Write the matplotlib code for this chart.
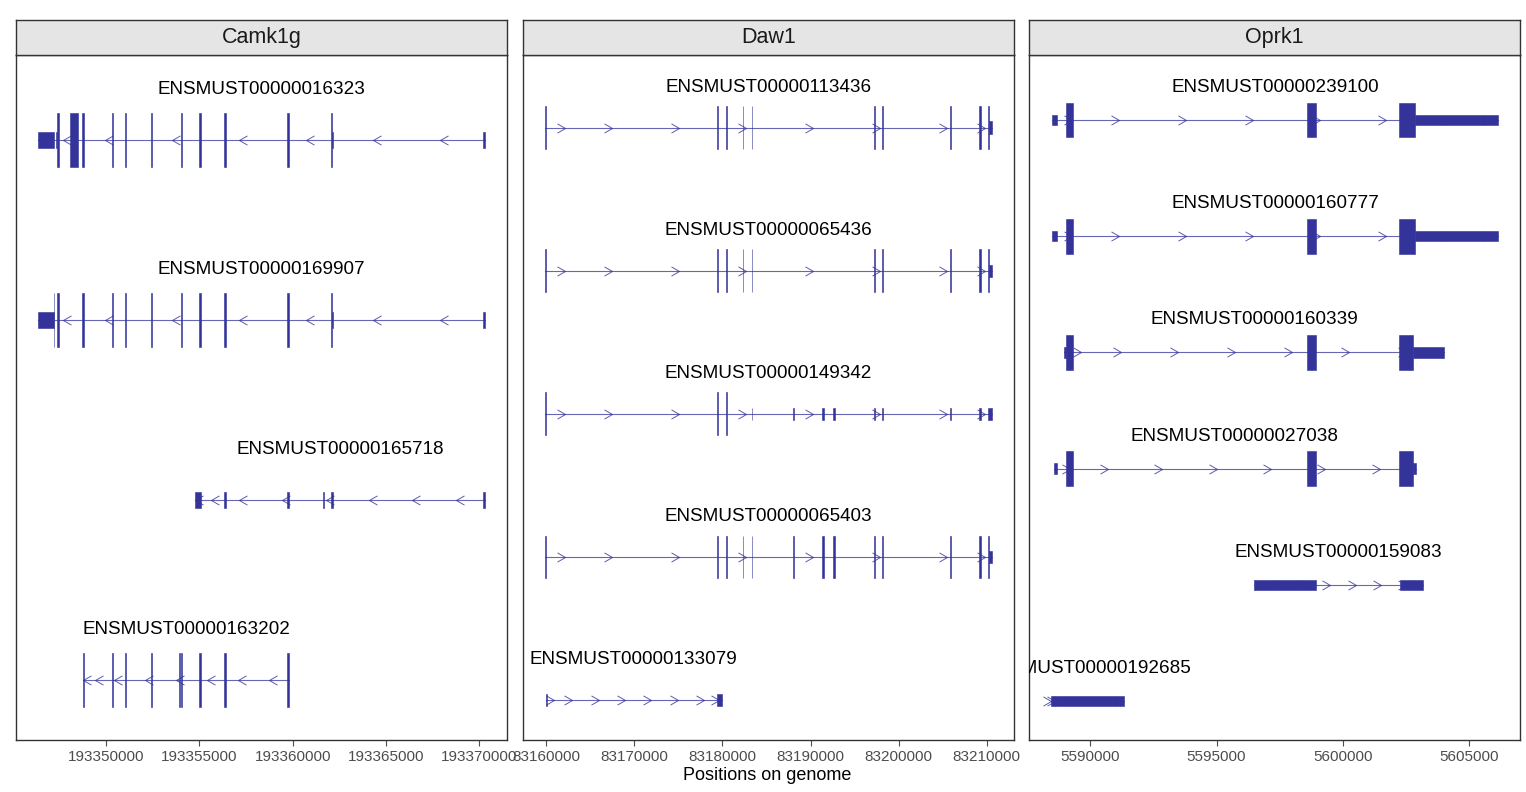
import matplotlib
matplotlib.use("Agg")
import matplotlib.pyplot as plt
from matplotlib.patches import Rectangle
from matplotlib.path import Path
from matplotlib.ticker import FixedLocator, FuncFormatter

plt.rcParams['font.family'] = ['Liberation Sans', 'DejaVu Sans']

COL = "#333399"

# ---- Camk1g (minus strand) ----
camk1g_ids = ["ENSMUST00000016323", "ENSMUST00000169907",
              "ENSMUST00000165718", "ENSMUST00000163202"]
camk1g_exons = [
    [(193346356, 193347213), (193347304, 193347454), (193348071, 193348499),
     (193348716, 193348786), (193350302, 193350342), (193350984, 193351084),
     (193352408, 193352448), (193353985, 193354085), (193354971, 193355071),
     (193356327, 193356427), (193359720, 193359820), (193362045, 193362160),
     (193370220, 193370300)],
    [(193346356, 193347224), (193347358, 193347444), (193348716, 193348786),
     (193350302, 193350342), (193350984, 193351084), (193352408, 193352448),
     (193353985, 193354085), (193354971, 193355071), (193356327, 193356427),
     (193359720, 193359820), (193362045, 193362160), (193370220, 193370300)],
    [(193354786, 193355075), (193356327, 193356427), (193359720, 193359820),
     (193361647, 193361687), (193362045, 193362145), (193370220, 193370300)],
    [(193348764, 193348804), (193350302, 193350342), (193350984, 193351084),
     (193352408, 193352448), (193353892, 193353932), (193353985, 193354085),
     (193354971, 193355071), (193356327, 193356427), (193359720, 193359820)],
]
camk1g_cds = [(193347374, 193362110), (193347181, 193362110), None,
              (193348764, 193359820)]

# ---- Daw1 (plus strand) ----
daw1_ids = ["ENSMUST00000113436", "ENSMUST00000065436", "ENSMUST00000149342",
            "ENSMUST00000065403", "ENSMUST00000133079"]
daw1_exons = [
    [(83159890, 83159960), (83179400, 83179470), (83180370, 83180540),
     (83182300, 83182370), (83183320, 83183390), (83197240, 83197310),
     (83198150, 83198220), (83205845, 83205915), (83209160, 83209320),
     (83210150, 83210566)],
    [(83159890, 83159960), (83179400, 83179470), (83180370, 83180540),
     (83182300, 83182370), (83183320, 83183390), (83197240, 83197310),
     (83198150, 83198220), (83205845, 83205915), (83209160, 83209320),
     (83210150, 83210566)],
    [(83159890, 83159960), (83179400, 83179470), (83180370, 83180540),
     (83183320, 83183390), (83188005, 83188075), (83191350, 83191520),
     (83192600, 83192770), (83197240, 83197310), (83198150, 83198220),
     (83205845, 83205915), (83209160, 83209320), (83210150, 83210566)],
    [(83159890, 83159960), (83179400, 83179470), (83180370, 83180540),
     (83182300, 83182370), (83183320, 83183390), (83188005, 83188075),
     (83191350, 83191520), (83192600, 83192770), (83197240, 83197310),
     (83198150, 83198220), (83205845, 83205915), (83209160, 83209320),
     (83210150, 83210566)],
    [(83159950, 83160030), (83179420, 83179920)],
]
daw1_cds = [(83159890, 83210230), (83159890, 83210230), (83159890, 83180540),
            (83159890, 83210230), None]

# ---- Oprk1 (plus strand) ----
oprk1_ids = ["ENSMUST00000239100", "ENSMUST00000160777", "ENSMUST00000160339",
             "ENSMUST00000027038", "ENSMUST00000159083", "ENSMUST00000192685"]
oprk1_exons = [
    [(5588488, 5588674), (5589041, 5589305), (5598581, 5598936), (5602236, 5606143)],
    [(5588488, 5588674), (5589041, 5589305), (5598581, 5598936), (5602236, 5606143)],
    [(5588950, 5589305), (5598581, 5598936), (5602236, 5604012)],
    [(5588540, 5588674), (5589041, 5589305), (5598581, 5598936), (5602236, 5602895)],
    [(5596501, 5598936), (5602263, 5603183)],
    [(5588449, 5591318)],
]
oprk1_cds = [(5589041, 5602855), (5589041, 5602855), (5589041, 5602788),
             (5589041, 5602788), None, None]

genes = ["Camk1g", "Daw1", "Oprk1"]
strands = ["-", "+", "+"]
tick_steps = [5000, 10000, 5000]
gene_ids = [camk1g_ids, daw1_ids, oprk1_ids]
gene_exons = [camk1g_exons, daw1_exons, oprk1_exons]
gene_cds = [camk1g_cds, daw1_cds, oprk1_cds]

# chevron positions along each transcript (fraction of span from the left end)
ARROW_FRACS = {"-": [0, 0.055, 0.15, 0.30, 0.45, 0.60, 0.75, 0.90],
               "+": [0.045, 0.15, 0.30, 0.45, 0.60, 0.75, 0.90, 0.985]}

CDS_H = 0.15
UTR_H = 0.045

chev_r = Path([(-1, 0.577), (0, 0), (-1, -0.577)],
              [Path.MOVETO, Path.LINETO, Path.LINETO])
chev_l = Path([(1, 0.577), (0, 0), (1, -0.577)],
              [Path.MOVETO, Path.LINETO, Path.LINETO])

W, H = 1526, 792
fig = plt.figure(figsize=(W / 100, H / 100), dpi=100)
lefts = [16, 523, 1029]
pw = 491
bottom_px, top_px, strip_top = 740, 55, 20
ylims = {4: (4.333, 0.528), 5: (5.28, 0.49), 6: (6.336, 0.44)}

for k in range(3):
    ax = fig.add_axes([lefts[k] / W, (H - bottom_px) / H, pw / W,
                       (bottom_px - top_px) / H])
    ids, exons, cds = gene_ids[k], gene_exons[k], gene_cds[k]
    n = len(ids)
    lo = min(e[0] for ex in exons for e in ex)
    hi = max(e[1] for ex in exons for e in ex)
    pad = (hi - lo) * 0.05
    ax.set_xlim(lo - pad, hi + pad)

    for i in range(n):
        y = i + 1
        ex = exons[i]
        s, e = ex[0][0], ex[-1][1]
        ax.plot([s, e], [y, y], color=COL, lw=0.8, alpha=0.75, zorder=1)
        fr = list(ARROW_FRACS[strands[k]])
        if len(ex) == 1:
            fr = [0] + fr
        xs = [s + f * (e - s) for f in fr]
        ax.plot(xs, [y] * len(xs), ls="none",
                marker=chev_r if strands[k] == "+" else chev_l,
                ms=11.5, mfc="none", mec=COL, mew=0.7, alpha=0.8, zorder=2)
        c = cds[i]
        for (a, b) in ex:
            parts = []
            if c is None:
                parts.append((a, b, UTR_H))
            else:
                if a < c[0]:
                    parts.append((a, min(b, c[0]), UTR_H))
                if b > c[1]:
                    parts.append((max(a, c[1]), b, UTR_H))
                ca, cb = max(a, c[0]), min(b, c[1])
                if cb > ca:
                    parts.append((ca, cb, CDS_H))
            for (pa, pb, hh) in parts:
                ax.add_patch(Rectangle((pa, y - hh), pb - pa, 2 * hh,
                                       facecolor=COL, edgecolor=COL,
                                       lw=0.4, zorder=3))
        ax.text((s + e) / 2, y - 0.28, ids[i], ha="center", va="center",
                fontsize=13.6, color="black", clip_on=True, zorder=4)

    ax.set_ylim(*ylims[n])
    ax.set_yticks([])

    step = tick_steps[k]
    t0 = (int(lo - pad) // step + 1) * step
    ticks = list(range(t0, int(hi + pad) + 1, step))
    ax.xaxis.set_major_locator(FixedLocator(ticks))
    ax.xaxis.set_major_formatter(FuncFormatter(lambda v, p: "%d" % v))
    ax.tick_params(axis="x", labelsize=11, colors="#4D4D4D", length=4,
                   width=0.8, pad=3)
    for sp_ in ax.spines.values():
        sp_.set_color("#333333")
        sp_.set_linewidth(1.0)

    sax = fig.add_axes([lefts[k] / W, (H - top_px) / H, pw / W,
                        (top_px - strip_top) / H])
    sax.set_facecolor("#E5E5E5")
    sax.set_xticks([])
    sax.set_yticks([])
    for sp_ in sax.spines.values():
        sp_.set_color("#333333")
        sp_.set_linewidth(1.0)
    sax.text(0.5, 0.5, genes[k], ha="center", va="center", fontsize=15.5,
             color="#1A1A1A", transform=sax.transAxes)

fig.text(767 / W, 1 - 776 / H, "Positions on genome", ha="center",
         va="center", fontsize=13)

fig.savefig("out.png", dpi=100, facecolor="white")
